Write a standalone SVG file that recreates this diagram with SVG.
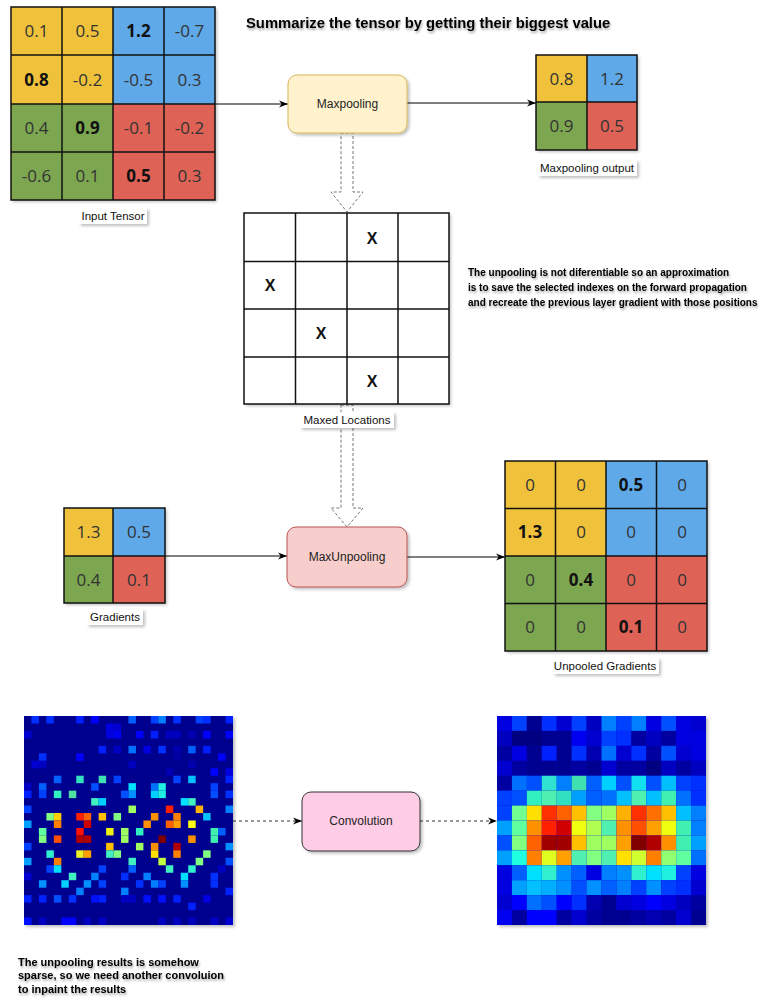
<svg xmlns="http://www.w3.org/2000/svg" width="762" height="998" viewBox="0 0 762 998">
<style>
.lbl{font-family:"Liberation Sans",Arial,sans-serif;font-size:11.5px;fill:#111;text-anchor:middle}
.node{font-family:"Liberation Sans",Arial,sans-serif;font-size:12px;fill:#222;text-anchor:middle}
.num{font-family:"Open Sans",sans-serif;font-size:17px;fill:#333;text-anchor:middle}
.b{font-weight:bold;fill:#111}
.xm{font-family:"Liberation Sans",Arial,sans-serif;font-size:16px;font-weight:bold;fill:#111;text-anchor:middle}
.note{font-family:"Liberation Sans",Arial,sans-serif;font-size:10px;font-weight:bold;fill:#000}
.bnote{font-family:"Liberation Sans",Arial,sans-serif;font-size:11px;font-weight:bold;fill:#000}
.y{fill:#f0c23a}.bl{fill:#5fa9e9}.g{fill:#7ba64f}.r{fill:#df6256}
.gl{stroke:#111;stroke-width:1.5;fill:none}
.conn{stroke:#000;stroke-width:1;fill:none}
.dash{stroke:#333;stroke-width:1;fill:none;stroke-dasharray:3 3}
.blk{fill:#fff;stroke:#777;stroke-width:1;stroke-dasharray:3 2}
</style>
<defs>
<filter id="sh" x="-10%" y="-10%" width="130%" height="130%"><feDropShadow dx="2" dy="2" stdDeviation="1.5" flood-color="#000" flood-opacity="0.25"/></filter>
<filter id="tsh" x="-5%" y="-30%" width="110%" height="180%"><feDropShadow dx="1" dy="2" stdDeviation="1" flood-color="#000" flood-opacity="0.35"/></filter>
<marker id="ah" viewBox="0 0 10 10" refX="10" refY="5" markerWidth="9" markerHeight="9" orient="auto" markerUnits="userSpaceOnUse"><path d="M0,1 L10,5 L0,9 L3,5 z" fill="#000"/></marker>
</defs>
<rect width="762" height="998" fill="#fff"/>

<text x="246" y="28" font-family="Liberation Sans,Arial,sans-serif" font-size="14.8" font-weight="bold" fill="#000" filter="url(#tsh)">Summarize the tensor by getting their biggest value</text>

<g id="connectors">
<path class="conn" d="M215,104 H288" marker-end="url(#ah)"/>
<path class="conn" d="M407,103 H536" marker-end="url(#ah)"/>
<path class="conn" d="M165,556 H287" marker-end="url(#ah)"/>
<path class="conn" d="M407,557 H505" marker-end="url(#ah)"/>
<path class="dash" d="M233,821 H302" marker-end="url(#ah)"/>
<path class="dash" d="M420,821 H497" marker-end="url(#ah)"/>
<polygon class="blk" points="341,133 353,133 353,192 363,192 347,212 331,192 341,192"/>
<polygon class="blk" points="341,405 353,405 353,508 363,508 347,527 331,508 341,508"/>
</g>

<g id="input-tensor">
<g filter="url(#sh)">
<rect class="y" x="11" y="7" width="102" height="97"/>
<rect class="bl" x="113" y="7" width="102" height="97"/>
<rect class="g" x="11" y="104" width="102" height="96"/>
<rect class="r" x="113" y="104" width="102" height="96"/>
</g>
<path class="gl" d="M11,7 H215 V200 H11 Z M62,7 V200 M113,7 V200 M164,7 V200 M11,55 H215 M11,104 H215 M11,152 H215"/>
<text class="num" x="36.5" y="37">0.1</text><text class="num" x="87.5" y="37">0.5</text><text class="num b" x="138.5" y="37">1.2</text><text class="num" x="189.5" y="37">-0.7</text>
<text class="num b" x="36.5" y="85.5">0.8</text><text class="num" x="87.5" y="85.5">-0.2</text><text class="num" x="138.5" y="85.5">-0.5</text><text class="num" x="189.5" y="85.5">0.3</text>
<text class="num" x="36.5" y="134">0.4</text><text class="num b" x="87.5" y="134">0.9</text><text class="num" x="138.5" y="134">-0.1</text><text class="num" x="189.5" y="134">-0.2</text>
<text class="num" x="36.5" y="182">-0.6</text><text class="num" x="87.5" y="182">0.1</text><text class="num b" x="138.5" y="182">0.5</text><text class="num" x="189.5" y="182">0.3</text>
<rect x="79" y="208" width="68" height="16" fill="#fff" filter="url(#sh)"/>
<text class="lbl" x="113" y="220">Input Tensor</text>
</g>

<g id="maxpooling">
<rect x="288" y="75" width="119" height="58" rx="9" fill="#fff2cc" stroke="#d6b656" stroke-width="1" filter="url(#sh)"/>
<text class="node" x="347.5" y="108">Maxpooling</text>
</g>

<g id="maxpooling-output">
<g filter="url(#sh)">
<rect class="y" x="536" y="55" width="51" height="47"/>
<rect class="bl" x="587" y="55" width="50" height="47"/>
<rect class="g" x="536" y="102" width="51" height="48"/>
<rect class="r" x="587" y="102" width="50" height="48"/>
</g>
<path class="gl" d="M536,55 H637 V150 H536 Z M587,55 V150 M536,102 H637"/>
<text class="num" x="561.5" y="84.5">0.8</text><text class="num" x="612" y="84.5">1.2</text>
<text class="num" x="561.5" y="132">0.9</text><text class="num" x="612" y="132">0.5</text>
<rect x="538" y="160" width="99" height="16" fill="#fff" filter="url(#sh)"/>
<text class="lbl" x="587" y="172">Maxpooling output</text>
</g>

<g id="maxed-locations">
<rect x="244" y="213" width="205" height="191" fill="#fff" filter="url(#sh)"/>
<path class="gl" d="M244,213 H449 V404 H244 Z M295.5,213 V404 M347,213 V404 M398,213 V404 M244,261.5 H449 M244,309 H449 M244,357 H449"/>
<text class="xm" x="372" y="244">X</text>
<text class="xm" x="270" y="291">X</text>
<text class="xm" x="321" y="339">X</text>
<text class="xm" x="372" y="387">X</text>
<rect x="300" y="412" width="94" height="16" fill="#fff" filter="url(#sh)"/>
<text class="lbl" x="347" y="424">Maxed Locations</text>
</g>

<g id="note">
<text class="note" x="468" y="276" filter="url(#tsh)">The unpooling is not diferentiable so an approximation</text>
<text class="note" x="468" y="291" filter="url(#tsh)">is to save the selected indexes on the forward propagation</text>
<text class="note" x="468" y="306" filter="url(#tsh)">and recreate the previous layer gradient with those positions</text>
</g>

<g id="gradients">
<g filter="url(#sh)">
<rect class="y" x="64" y="508" width="49" height="48"/>
<rect class="bl" x="113" y="508" width="52" height="48"/>
<rect class="g" x="64" y="556" width="49" height="47"/>
<rect class="r" x="113" y="556" width="52" height="47"/>
</g>
<path class="gl" d="M64,508 H165 V603 H64 Z M113,508 V603 M64,556 H165"/>
<text class="num" x="88.5" y="538">1.3</text><text class="num" x="139" y="538">0.5</text>
<text class="num" x="88.5" y="585.5">0.4</text><text class="num" x="139" y="585.5">0.1</text>
<rect x="87" y="609" width="56" height="16" fill="#fff" filter="url(#sh)"/>
<text class="lbl" x="115" y="621">Gradients</text>
</g>

<g id="maxunpooling">
<rect x="287" y="527" width="120" height="60" rx="9" fill="#f8cecc" stroke="#b85450" stroke-width="1" filter="url(#sh)"/>
<text class="node" x="347" y="561">MaxUnpooling</text>
</g>

<g id="unpooled-gradients">
<g filter="url(#sh)">
<rect class="y" x="505" y="461" width="101" height="95"/>
<rect class="bl" x="606" y="461" width="101" height="95"/>
<rect class="g" x="505" y="556" width="101" height="95"/>
<rect class="r" x="606" y="556" width="101" height="95"/>
</g>
<path class="gl" d="M505,461 H707 V651 H505 Z M555.5,461 V651 M606,461 V651 M656.5,461 V651 M505,508.5 H707 M505,556 H707 M505,603.5 H707"/>
<text class="num" x="530" y="490.5">0</text><text class="num" x="581" y="490.5">0</text><text class="num b" x="631" y="490.5">0.5</text><text class="num" x="682" y="490.5">0</text>
<text class="num b" x="530" y="538">1.3</text><text class="num" x="581" y="538">0</text><text class="num" x="631" y="538">0</text><text class="num" x="682" y="538">0</text>
<text class="num" x="530" y="585.5">0</text><text class="num b" x="581" y="585.5">0.4</text><text class="num" x="631" y="585.5">0</text><text class="num" x="682" y="585.5">0</text>
<text class="num" x="530" y="633">0</text><text class="num" x="581" y="633">0</text><text class="num b" x="631" y="633">0.1</text><text class="num" x="682" y="633">0</text>
<rect x="553" y="658" width="106" height="16" fill="#fff" filter="url(#sh)"/>
<text class="lbl" x="605" y="670">Unpooled Gradients</text>
</g>

<g id="sparse-heatmap">
<rect x="24" y="716" width="209" height="209" fill="#00008f" filter="url(#sh)"/>
<g transform="translate(24,716) scale(7.464)">
<rect x="1" y="0" width="1" height="1" fill="#0030ff"/><rect x="3" y="0" width="1" height="1" fill="#0030ff"/><rect x="7" y="0" width="1" height="1" fill="#0020ff"/><rect x="9" y="0" width="1" height="1" fill="#0000ff"/><rect x="14" y="0" width="1" height="1" fill="#0060ff"/><rect x="17" y="0" width="1" height="1" fill="#0040ff"/><rect x="18" y="0" width="1" height="1" fill="#0080ff"/><rect x="20" y="0" width="1" height="1" fill="#0030ff"/><rect x="23" y="0" width="1" height="1" fill="#0040ff"/><rect x="24" y="0" width="1" height="1" fill="#0030ff"/><rect x="27" y="0" width="1" height="1" fill="#0020ff"/>
<rect x="11" y="1" width="1" height="1" fill="#0000e0"/><rect x="12" y="1" width="1" height="1" fill="#0000d0"/>
<rect x="0" y="2" width="1" height="1" fill="#0000d0"/><rect x="11" y="2" width="1" height="1" fill="#0000e0"/><rect x="12" y="2" width="1" height="1" fill="#0000f0"/><rect x="15" y="2" width="1" height="1" fill="#0000ff"/><rect x="17" y="2" width="1" height="1" fill="#0020ff"/><rect x="19" y="2" width="1" height="1" fill="#0000c0"/><rect x="20" y="2" width="1" height="1" fill="#0000c0"/><rect x="22" y="2" width="1" height="1" fill="#0000b0"/><rect x="24" y="2" width="1" height="1" fill="#0000ff"/><rect x="27" y="2" width="1" height="1" fill="#0000ff"/>
<rect x="10" y="4" width="1" height="1" fill="#0020ff"/><rect x="12" y="4" width="1" height="1" fill="#0000c0"/><rect x="14" y="4" width="1" height="1" fill="#0070ff"/><rect x="16" y="4" width="1" height="1" fill="#0000e0"/><rect x="18" y="4" width="1" height="1" fill="#0030ff"/><rect x="20" y="4" width="1" height="1" fill="#0000b0"/><rect x="22" y="4" width="1" height="1" fill="#0060ff"/><rect x="24" y="4" width="1" height="1" fill="#0020ff"/>
<rect x="2" y="5" width="1" height="1" fill="#0030ff"/><rect x="7" y="5" width="1" height="1" fill="#0000ff"/><rect x="20" y="5" width="1" height="1" fill="#0000a0"/><rect x="26" y="5" width="1" height="1" fill="#0000ff"/>
<rect x="1" y="6" width="1" height="1" fill="#0000d0"/><rect x="2" y="6" width="1" height="1" fill="#0000c0"/><rect x="14" y="6" width="1" height="1" fill="#0000c0"/><rect x="22" y="6" width="1" height="1" fill="#0000b0"/>
<rect x="19" y="7" width="1" height="1" fill="#0000b0"/><rect x="25" y="7" width="1" height="1" fill="#0000ff"/><rect x="27" y="7" width="1" height="1" fill="#0000e0"/>
<rect x="4" y="8" width="1" height="1" fill="#0060ff"/><rect x="7" y="8" width="1" height="1" fill="#30e0c0"/><rect x="10" y="8" width="1" height="1" fill="#40e0b0"/><rect x="12" y="8" width="1" height="1" fill="#0040ff"/><rect x="20" y="8" width="1" height="1" fill="#0040ff"/><rect x="22" y="8" width="1" height="1" fill="#00c0ff"/><rect x="27" y="8" width="1" height="1" fill="#0020ff"/>
<rect x="0" y="9" width="1" height="1" fill="#0000c0"/><rect x="2" y="9" width="1" height="1" fill="#0060ff"/><rect x="9" y="9" width="1" height="1" fill="#0050ff"/><rect x="14" y="9" width="1" height="1" fill="#00e0ff"/><rect x="17" y="9" width="1" height="1" fill="#0070ff"/><rect x="18" y="9" width="1" height="1" fill="#20f0e0"/><rect x="25" y="9" width="1" height="1" fill="#0040ff"/>
<rect x="0" y="10" width="1" height="1" fill="#0020ff"/><rect x="2" y="10" width="1" height="1" fill="#0040ff"/><rect x="4" y="10" width="1" height="1" fill="#30f0c0"/><rect x="6" y="10" width="1" height="1" fill="#50e0a0"/><rect x="13" y="10" width="1" height="1" fill="#0050ff"/><rect x="14" y="10" width="1" height="1" fill="#0090ff"/><rect x="17" y="10" width="1" height="1" fill="#00d0ff"/><rect x="18" y="10" width="1" height="1" fill="#20f0e0"/><rect x="25" y="10" width="1" height="1" fill="#0050ff"/><rect x="27" y="10" width="1" height="1" fill="#0030ff"/>
<rect x="9" y="11" width="1" height="1" fill="#40f0c0"/><rect x="10" y="11" width="1" height="1" fill="#00d0ff"/><rect x="21" y="11" width="1" height="1" fill="#00e0ff"/><rect x="22" y="11" width="1" height="1" fill="#40f0c0"/>
<rect x="0" y="12" width="1" height="1" fill="#0040ff"/><rect x="14" y="12" width="1" height="1" fill="#a0ff60"/><rect x="19" y="12" width="1" height="1" fill="#ff2000"/><rect x="23" y="12" width="1" height="1" fill="#ffb000"/><rect x="27" y="12" width="1" height="1" fill="#0080ff"/>
<rect x="3" y="13" width="1" height="1" fill="#80ff80"/><rect x="4" y="13" width="1" height="1" fill="#ffd000"/><rect x="7" y="13" width="1" height="1" fill="#ff2000"/><rect x="8" y="13" width="1" height="1" fill="#ff6000"/><rect x="10" y="13" width="1" height="1" fill="#ffc000"/><rect x="12" y="13" width="1" height="1" fill="#80ff80"/><rect x="17" y="13" width="1" height="1" fill="#ff9000"/><rect x="20" y="13" width="1" height="1" fill="#ff8000"/><rect x="24" y="13" width="1" height="1" fill="#00c0ff"/>
<rect x="0" y="14" width="1" height="1" fill="#00a0ff"/><rect x="4" y="14" width="1" height="1" fill="#ff8000"/><rect x="8" y="14" width="1" height="1" fill="#d00000"/><rect x="16" y="14" width="1" height="1" fill="#ff9000"/><rect x="19" y="14" width="1" height="1" fill="#ff6000"/><rect x="20" y="14" width="1" height="1" fill="#ffa000"/><rect x="22" y="14" width="1" height="1" fill="#ffff10"/>
<rect x="2" y="15" width="1" height="1" fill="#60ffa0"/><rect x="7" y="15" width="1" height="1" fill="#ff1000"/><rect x="11" y="15" width="1" height="1" fill="#f0f010"/><rect x="13" y="15" width="1" height="1" fill="#a0ff60"/><rect x="15" y="15" width="1" height="1" fill="#30f0c0"/><rect x="25" y="15" width="1" height="1" fill="#40f0b0"/><rect x="26" y="15" width="1" height="1" fill="#0060ff"/>
<rect x="2" y="16" width="1" height="1" fill="#80ff80"/><rect x="4" y="16" width="1" height="1" fill="#ff5000"/><rect x="7" y="16" width="1" height="1" fill="#b00000"/><rect x="8" y="16" width="1" height="1" fill="#b00000"/><rect x="13" y="16" width="1" height="1" fill="#a0ff60"/><rect x="18" y="16" width="1" height="1" fill="#800000"/><rect x="22" y="16" width="1" height="1" fill="#ff9000"/><rect x="25" y="16" width="1" height="1" fill="#40f0b0"/>
<rect x="0" y="17" width="1" height="1" fill="#0040ff"/><rect x="11" y="17" width="1" height="1" fill="#ffc000"/><rect x="15" y="17" width="1" height="1" fill="#a0ff60"/><rect x="17" y="17" width="1" height="1" fill="#ff9000"/><rect x="20" y="17" width="1" height="1" fill="#b00000"/><rect x="27" y="17" width="1" height="1" fill="#0090ff"/>
<rect x="3" y="18" width="1" height="1" fill="#30f0d0"/><rect x="7" y="18" width="1" height="1" fill="#f0f020"/><rect x="8" y="18" width="1" height="1" fill="#ffa000"/><rect x="11" y="18" width="1" height="1" fill="#40f0c0"/><rect x="12" y="18" width="1" height="1" fill="#80ff80"/><rect x="17" y="18" width="1" height="1" fill="#ffe000"/><rect x="20" y="18" width="1" height="1" fill="#ff8000"/><rect x="24" y="18" width="1" height="1" fill="#80ff80"/>
<rect x="0" y="19" width="1" height="1" fill="#00a0ff"/><rect x="4" y="19" width="1" height="1" fill="#ff8000"/><rect x="14" y="19" width="1" height="1" fill="#40f0c0"/><rect x="18" y="19" width="1" height="1" fill="#c0ff40"/><rect x="23" y="19" width="1" height="1" fill="#80ff80"/><rect x="27" y="19" width="1" height="1" fill="#0050ff"/>
<rect x="3" y="20" width="1" height="1" fill="#0040ff"/><rect x="4" y="20" width="1" height="1" fill="#00e0ff"/><rect x="10" y="20" width="1" height="1" fill="#0040ff"/><rect x="14" y="20" width="1" height="1" fill="#0060ff"/><rect x="19" y="20" width="1" height="1" fill="#40f0c0"/><rect x="22" y="20" width="1" height="1" fill="#30f0d0"/><rect x="26" y="20" width="1" height="1" fill="#0000c0"/>
<rect x="0" y="21" width="1" height="1" fill="#0000d0"/><rect x="6" y="21" width="1" height="1" fill="#40f0c0"/><rect x="9" y="21" width="1" height="1" fill="#0080ff"/><rect x="13" y="21" width="1" height="1" fill="#0030ff"/><rect x="16" y="21" width="1" height="1" fill="#0080ff"/><rect x="21" y="21" width="1" height="1" fill="#00e0ff"/><rect x="25" y="21" width="1" height="1" fill="#0030ff"/>
<rect x="2" y="22" width="1" height="1" fill="#0090ff"/><rect x="5" y="22" width="1" height="1" fill="#00d0ff"/><rect x="8" y="22" width="1" height="1" fill="#0090ff"/><rect x="10" y="22" width="1" height="1" fill="#0040ff"/><rect x="15" y="22" width="1" height="1" fill="#0030ff"/><rect x="17" y="22" width="1" height="1" fill="#0080ff"/><rect x="18" y="22" width="1" height="1" fill="#0040ff"/><rect x="21" y="22" width="1" height="1" fill="#0090ff"/><rect x="25" y="22" width="1" height="1" fill="#0030ff"/>
<rect x="7" y="23" width="1" height="1" fill="#0080ff"/><rect x="13" y="23" width="1" height="1" fill="#0080ff"/><rect x="27" y="23" width="1" height="1" fill="#0020ff"/>
<rect x="0" y="24" width="1" height="1" fill="#0020ff"/><rect x="2" y="24" width="1" height="1" fill="#0020ff"/><rect x="4" y="24" width="1" height="1" fill="#0050ff"/><rect x="6" y="24" width="1" height="1" fill="#0030ff"/><rect x="9" y="24" width="1" height="1" fill="#0010ff"/><rect x="10" y="24" width="1" height="1" fill="#0020ff"/><rect x="13" y="24" width="1" height="1" fill="#0000c0"/><rect x="14" y="24" width="1" height="1" fill="#0000c0"/><rect x="16" y="24" width="1" height="1" fill="#0010ff"/><rect x="18" y="24" width="1" height="1" fill="#0010ff"/><rect x="20" y="24" width="1" height="1" fill="#0020ff"/><rect x="24" y="24" width="1" height="1" fill="#0000e0"/>
<rect x="22" y="25" width="1" height="1" fill="#0020ff"/>
<rect x="0" y="27" width="1" height="1" fill="#0010ff"/><rect x="2" y="27" width="1" height="1" fill="#0000c0"/><rect x="5" y="27" width="1" height="1" fill="#0000ff"/><rect x="6" y="27" width="1" height="1" fill="#0000ff"/><rect x="8" y="27" width="1" height="1" fill="#0000c0"/><rect x="10" y="27" width="1" height="1" fill="#0000c0"/><rect x="18" y="27" width="1" height="1" fill="#0000c0"/><rect x="20" y="27" width="1" height="1" fill="#0000c0"/><rect x="22" y="27" width="1" height="1" fill="#0000c0"/><rect x="25" y="27" width="1" height="1" fill="#0000c0"/><rect x="27" y="27" width="1" height="1" fill="#0000d0"/>
</g>
</g>

<g id="convolution">
<rect x="302" y="792" width="118" height="59" rx="9" fill="#ffcce6" stroke="#333" stroke-width="1" filter="url(#sh)"/>
<text class="node" x="361" y="825">Convolution</text>
</g>

<g id="smooth-heatmap">
<rect x="497" y="716" width="209" height="209" fill="#0000c0" filter="url(#sh)"/>
<g transform="translate(497,716) scale(14.93)">
<rect x="0" y="0" width="1" height="1" fill="#0000e0"/><rect x="1" y="0" width="1" height="1" fill="#0040ff"/><rect x="2" y="0" width="1" height="1" fill="#000090"/><rect x="3" y="0" width="1" height="1" fill="#0030ff"/><rect x="4" y="0" width="1" height="1" fill="#0000d0"/><rect x="5" y="0" width="1" height="1" fill="#0040ff"/><rect x="6" y="0" width="1" height="1" fill="#0000c0"/><rect x="7" y="0" width="1" height="1" fill="#0080ff"/><rect x="8" y="0" width="1" height="1" fill="#0040ff"/><rect x="9" y="0" width="1" height="1" fill="#0080ff"/><rect x="10" y="0" width="1" height="1" fill="#0000e0"/><rect x="11" y="0" width="1" height="1" fill="#0050ff"/><rect x="12" y="0" width="1" height="1" fill="#0000e0"/><rect x="13" y="0" width="1" height="1" fill="#0000d0"/>
<rect x="0" y="1" width="1" height="1" fill="#0000c0"/><rect x="1" y="1" width="1" height="1" fill="#000080"/><rect x="2" y="1" width="1" height="1" fill="#000080"/><rect x="3" y="1" width="1" height="1" fill="#000090"/><rect x="4" y="1" width="1" height="1" fill="#000090"/><rect x="5" y="1" width="1" height="1" fill="#0000f0"/><rect x="6" y="1" width="1" height="1" fill="#0000d0"/><rect x="7" y="1" width="1" height="1" fill="#0040ff"/><rect x="8" y="1" width="1" height="1" fill="#0030ff"/><rect x="9" y="1" width="1" height="1" fill="#0000a0"/><rect x="10" y="1" width="1" height="1" fill="#0000c0"/><rect x="11" y="1" width="1" height="1" fill="#0000a0"/><rect x="12" y="1" width="1" height="1" fill="#0000e0"/><rect x="13" y="1" width="1" height="1" fill="#0000e0"/>
<rect x="0" y="2" width="1" height="1" fill="#0000a0"/><rect x="1" y="2" width="1" height="1" fill="#0000e0"/><rect x="2" y="2" width="1" height="1" fill="#000090"/><rect x="3" y="2" width="1" height="1" fill="#0020ff"/><rect x="4" y="2" width="1" height="1" fill="#000090"/><rect x="5" y="2" width="1" height="1" fill="#0030ff"/><rect x="6" y="2" width="1" height="1" fill="#0000b0"/><rect x="7" y="2" width="1" height="1" fill="#0070ff"/><rect x="8" y="2" width="1" height="1" fill="#0000d0"/><rect x="9" y="2" width="1" height="1" fill="#0030ff"/><rect x="10" y="2" width="1" height="1" fill="#0000a0"/><rect x="11" y="2" width="1" height="1" fill="#0050ff"/><rect x="12" y="2" width="1" height="1" fill="#0000d0"/><rect x="13" y="2" width="1" height="1" fill="#0000e0"/>
<rect x="0" y="3" width="1" height="1" fill="#0000d0"/><rect x="1" y="3" width="1" height="1" fill="#0000a0"/><rect x="2" y="3" width="1" height="1" fill="#000090"/><rect x="3" y="3" width="1" height="1" fill="#000090"/><rect x="4" y="3" width="1" height="1" fill="#000090"/><rect x="5" y="3" width="1" height="1" fill="#0000a0"/><rect x="6" y="3" width="1" height="1" fill="#000090"/><rect x="7" y="3" width="1" height="1" fill="#0000d0"/><rect x="8" y="3" width="1" height="1" fill="#0000a0"/><rect x="9" y="3" width="1" height="1" fill="#0000a0"/><rect x="10" y="3" width="1" height="1" fill="#000080"/><rect x="11" y="3" width="1" height="1" fill="#0000c0"/><rect x="12" y="3" width="1" height="1" fill="#0000a0"/><rect x="13" y="3" width="1" height="1" fill="#0000c0"/>
<rect x="0" y="4" width="1" height="1" fill="#0000a0"/><rect x="1" y="4" width="1" height="1" fill="#0070ff"/><rect x="2" y="4" width="1" height="1" fill="#0050ff"/><rect x="3" y="4" width="1" height="1" fill="#30e0d0"/><rect x="4" y="4" width="1" height="1" fill="#0080ff"/><rect x="5" y="4" width="1" height="1" fill="#40e0b0"/><rect x="6" y="4" width="1" height="1" fill="#0060ff"/><rect x="7" y="4" width="1" height="1" fill="#00d0ff"/><rect x="8" y="4" width="1" height="1" fill="#0050ff"/><rect x="9" y="4" width="1" height="1" fill="#10e0f0"/><rect x="10" y="4" width="1" height="1" fill="#0050ff"/><rect x="11" y="4" width="1" height="1" fill="#00c0ff"/><rect x="12" y="4" width="1" height="1" fill="#0040ff"/><rect x="13" y="4" width="1" height="1" fill="#0030ff"/>
<rect x="0" y="5" width="1" height="1" fill="#0040ff"/><rect x="1" y="5" width="1" height="1" fill="#0050ff"/><rect x="2" y="5" width="1" height="1" fill="#30f0c0"/><rect x="3" y="5" width="1" height="1" fill="#50f0b0"/><rect x="4" y="5" width="1" height="1" fill="#30e0c0"/><rect x="5" y="5" width="1" height="1" fill="#00a0ff"/><rect x="6" y="5" width="1" height="1" fill="#0060ff"/><rect x="7" y="5" width="1" height="1" fill="#0070ff"/><rect x="8" y="5" width="1" height="1" fill="#00c0ff"/><rect x="9" y="5" width="1" height="1" fill="#50f0b0"/><rect x="10" y="5" width="1" height="1" fill="#00c0ff"/><rect x="11" y="5" width="1" height="1" fill="#40f0b0"/><rect x="12" y="5" width="1" height="1" fill="#0070ff"/><rect x="13" y="5" width="1" height="1" fill="#0030ff"/>
<rect x="0" y="6" width="1" height="1" fill="#0040ff"/><rect x="1" y="6" width="1" height="1" fill="#70ff90"/><rect x="2" y="6" width="1" height="1" fill="#ffe000"/><rect x="3" y="6" width="1" height="1" fill="#ff3000"/><rect x="4" y="6" width="1" height="1" fill="#ff6000"/><rect x="5" y="6" width="1" height="1" fill="#ffc000"/><rect x="6" y="6" width="1" height="1" fill="#80ff80"/><rect x="7" y="6" width="1" height="1" fill="#a0ff60"/><rect x="8" y="6" width="1" height="1" fill="#ffb000"/><rect x="9" y="6" width="1" height="1" fill="#ff3000"/><rect x="10" y="6" width="1" height="1" fill="#ff7000"/><rect x="11" y="6" width="1" height="1" fill="#ffc000"/><rect x="12" y="6" width="1" height="1" fill="#00c0ff"/><rect x="13" y="6" width="1" height="1" fill="#0080ff"/>
<rect x="0" y="7" width="1" height="1" fill="#00a0ff"/><rect x="1" y="7" width="1" height="1" fill="#60ffa0"/><rect x="2" y="7" width="1" height="1" fill="#ff9000"/><rect x="3" y="7" width="1" height="1" fill="#ff2000"/><rect x="4" y="7" width="1" height="1" fill="#d00000"/><rect x="5" y="7" width="1" height="1" fill="#f0ff10"/><rect x="6" y="7" width="1" height="1" fill="#b0ff50"/><rect x="7" y="7" width="1" height="1" fill="#50f0b0"/><rect x="8" y="7" width="1" height="1" fill="#ff9000"/><rect x="9" y="7" width="1" height="1" fill="#ff5000"/><rect x="10" y="7" width="1" height="1" fill="#ffa000"/><rect x="11" y="7" width="1" height="1" fill="#f0ff10"/><rect x="12" y="7" width="1" height="1" fill="#40f0b0"/><rect x="13" y="7" width="1" height="1" fill="#0080ff"/>
<rect x="0" y="8" width="1" height="1" fill="#0050ff"/><rect x="1" y="8" width="1" height="1" fill="#80ff80"/><rect x="2" y="8" width="1" height="1" fill="#ff6000"/><rect x="3" y="8" width="1" height="1" fill="#a00000"/><rect x="4" y="8" width="1" height="1" fill="#a00000"/><rect x="5" y="8" width="1" height="1" fill="#ffc000"/><rect x="6" y="8" width="1" height="1" fill="#a0ff60"/><rect x="7" y="8" width="1" height="1" fill="#a0ff60"/><rect x="8" y="8" width="1" height="1" fill="#ffa000"/><rect x="9" y="8" width="1" height="1" fill="#800000"/><rect x="10" y="8" width="1" height="1" fill="#b00000"/><rect x="11" y="8" width="1" height="1" fill="#ff9000"/><rect x="12" y="8" width="1" height="1" fill="#40f0b0"/><rect x="13" y="8" width="1" height="1" fill="#00a0ff"/>
<rect x="0" y="9" width="1" height="1" fill="#00a0ff"/><rect x="1" y="9" width="1" height="1" fill="#20ffe0"/><rect x="2" y="9" width="1" height="1" fill="#ff8000"/><rect x="3" y="9" width="1" height="1" fill="#e0ff20"/><rect x="4" y="9" width="1" height="1" fill="#ffa000"/><rect x="5" y="9" width="1" height="1" fill="#50f0b0"/><rect x="6" y="9" width="1" height="1" fill="#80ff80"/><rect x="7" y="9" width="1" height="1" fill="#50f0b0"/><rect x="8" y="9" width="1" height="1" fill="#ffe000"/><rect x="9" y="9" width="1" height="1" fill="#d0ff30"/><rect x="10" y="9" width="1" height="1" fill="#ff8000"/><rect x="11" y="9" width="1" height="1" fill="#90ff70"/><rect x="12" y="9" width="1" height="1" fill="#60ffa0"/><rect x="13" y="9" width="1" height="1" fill="#0070ff"/>
<rect x="0" y="10" width="1" height="1" fill="#0000e0"/><rect x="1" y="10" width="1" height="1" fill="#0060ff"/><rect x="2" y="10" width="1" height="1" fill="#00e0ff"/><rect x="3" y="10" width="1" height="1" fill="#30f0d0"/><rect x="4" y="10" width="1" height="1" fill="#0090ff"/><rect x="5" y="10" width="1" height="1" fill="#0060ff"/><rect x="6" y="10" width="1" height="1" fill="#0000e0"/><rect x="7" y="10" width="1" height="1" fill="#0080ff"/><rect x="8" y="10" width="1" height="1" fill="#0090ff"/><rect x="9" y="10" width="1" height="1" fill="#30f0d0"/><rect x="10" y="10" width="1" height="1" fill="#00e0ff"/><rect x="11" y="10" width="1" height="1" fill="#20f0e0"/><rect x="12" y="10" width="1" height="1" fill="#0040ff"/><rect x="13" y="10" width="1" height="1" fill="#0000e0"/>
<rect x="0" y="11" width="1" height="1" fill="#0000e0"/><rect x="1" y="11" width="1" height="1" fill="#00a0ff"/><rect x="2" y="11" width="1" height="1" fill="#00c0ff"/><rect x="3" y="11" width="1" height="1" fill="#00b0ff"/><rect x="4" y="11" width="1" height="1" fill="#0090ff"/><rect x="5" y="11" width="1" height="1" fill="#0050ff"/><rect x="6" y="11" width="1" height="1" fill="#0090ff"/><rect x="7" y="11" width="1" height="1" fill="#0060ff"/><rect x="8" y="11" width="1" height="1" fill="#0080ff"/><rect x="9" y="11" width="1" height="1" fill="#0040ff"/><rect x="10" y="11" width="1" height="1" fill="#0090ff"/><rect x="11" y="11" width="1" height="1" fill="#0040ff"/><rect x="12" y="11" width="1" height="1" fill="#0030ff"/><rect x="13" y="11" width="1" height="1" fill="#0000d0"/>
<rect x="0" y="12" width="1" height="1" fill="#0000d0"/><rect x="1" y="12" width="1" height="1" fill="#0000ff"/><rect x="2" y="12" width="1" height="1" fill="#0070ff"/><rect x="3" y="12" width="1" height="1" fill="#0050ff"/><rect x="4" y="12" width="1" height="1" fill="#0000ff"/><rect x="5" y="12" width="1" height="1" fill="#0030ff"/><rect x="6" y="12" width="1" height="1" fill="#0000b0"/><rect x="7" y="12" width="1" height="1" fill="#000090"/><rect x="8" y="12" width="1" height="1" fill="#0000d0"/><rect x="9" y="12" width="1" height="1" fill="#0000e0"/><rect x="10" y="12" width="1" height="1" fill="#0000ff"/><rect x="11" y="12" width="1" height="1" fill="#0000e0"/><rect x="12" y="12" width="1" height="1" fill="#0000c0"/><rect x="13" y="12" width="1" height="1" fill="#0000a0"/>
<rect x="0" y="13" width="1" height="1" fill="#0000f0"/><rect x="1" y="13" width="1" height="1" fill="#0000a0"/><rect x="2" y="13" width="1" height="1" fill="#0000ff"/><rect x="3" y="13" width="1" height="1" fill="#0000ff"/><rect x="4" y="13" width="1" height="1" fill="#0000a0"/><rect x="5" y="13" width="1" height="1" fill="#0000d0"/><rect x="6" y="13" width="1" height="1" fill="#0000a0"/><rect x="7" y="13" width="1" height="1" fill="#000090"/><rect x="8" y="13" width="1" height="1" fill="#000090"/><rect x="9" y="13" width="1" height="1" fill="#0000a0"/><rect x="10" y="13" width="1" height="1" fill="#0000b0"/><rect x="11" y="13" width="1" height="1" fill="#0000a0"/><rect x="12" y="13" width="1" height="1" fill="#0000d0"/><rect x="13" y="13" width="1" height="1" fill="#000090"/>
</g>
</g>

<g id="bottom-note">
<text class="bnote" x="18" y="966" filter="url(#tsh)">The unpooling results is somehow</text>
<text class="bnote" x="18" y="979" filter="url(#tsh)">sparse, so we need another convoluion</text>
<text class="bnote" x="18" y="993" filter="url(#tsh)">to inpaint the results</text>
</g>
</svg>
